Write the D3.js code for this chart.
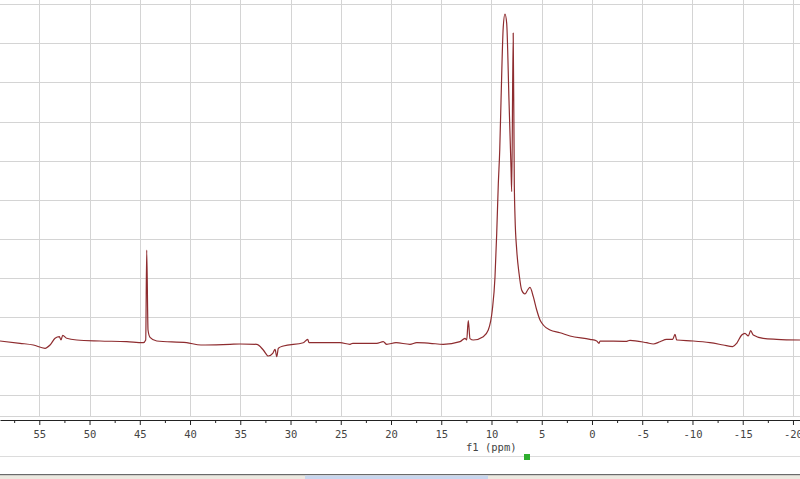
<!DOCTYPE html>
<html>
<head>
<meta charset="utf-8">
<script src="https://cdn.jsdelivr.net/npm/d3@7"></script>
<style>
  html, body { margin: 0; padding: 0; background: #fff; }
  svg { display: block; }
</style>
</head>
<body>
<div id="chart"></div>
<script>
// spectrum, left (high ppm) to right
const ppm = [
  58.91, 56.92, 55.59, 54.43, 53.93, 53.43, 53.00, 52.84, 52.67, 52.27, 51.27, 48.96, 46.30,
  44.65, 44.41, 44.31, 44.18, 43.98, 43.31, 40.33, 38.91, 36.02, 35.02, 33.36, 32.71, 32.21,
  31.77, 31.54, 31.37, 31.21, 30.72, 28.73, 28.29, 28.16, 25.07, 24.08, 23.81, 22.76, 21.42,
  20.77, 20.43, 19.50, 18.11, 17.44, 16.12, 14.80, 13.13, 12.64, 12.47, 12.31, 12.14, 11.81,
  10.82, 10.32, 9.92, 9.65, 9.48, 9.32, 9.18, 9.05, 8.83, 8.66, 8.49, 8.26, 8.06, 7.99, 7.84,
  7.73, 7.66, 7.49, 7.26, 7.00, 6.67, 6.40, 6.17, 5.84, 5.50, 5.17, 4.85, 4.18, 3.18, 2.19,
  0.20, -0.47, -0.70, -0.80, -3.45, -3.78, -5.44, -6.10, -6.77, -7.43, -8.03, -8.26, -8.43,
  -10.08, -11.74, -13.06, -14.00, -14.40, -14.90, -15.22, -15.55, -15.79, -16.05, -17.04,
  -18.38, -20.70
];
const intensity = [
  1.389, 1.330, 1.286, 1.202, 1.286, 1.458, 1.499, 1.414, 1.535, 1.458, 1.414, 1.389, 1.371,
  1.345, 1.414, 3.716, 1.670, 1.483, 1.389, 1.345, 1.286, 1.304, 1.312, 1.304, 1.159, 1.005,
  1.074, 1.176, 0.987, 1.202, 1.261, 1.345, 1.432, 1.345, 1.345, 1.304, 1.330, 1.330, 1.330,
  1.371, 1.304, 1.345, 1.304, 1.345, 1.330, 1.304, 1.371, 1.458, 1.414, 1.908, 1.450, 1.414,
  1.499, 1.670, 2.182, 3.033, 4.143, 5.422, 6.274, 7.552, 9.419, 9.752, 9.522, 7.552, 5.839, 5.207, 9.266,
  5.379, 4.568, 3.716, 3.120, 2.693, 2.591, 2.693, 2.762, 2.522, 2.182, 1.926, 1.798, 1.670, 1.601, 1.517,
  1.432, 1.389, 1.330, 1.389, 1.381, 1.407, 1.345, 1.312, 1.371, 1.432, 1.432, 1.560, 1.414,
  1.389, 1.345, 1.286, 1.243, 1.330, 1.542, 1.586, 1.517, 1.652, 1.542, 1.458,
  1.432, 1.414
];
const majorTicks = [55, 50, 45, 40, 35, 30, 25, 20, 15, 10, 5, 0, -5, -10, -15, -20];
const minorTicks = [57.5, 52.5, 47.5, 42.5, 37.5, 32.5, 27.5, 22.5, 17.5, 12.5, 7.5, 2.5, -2.5, -7.5, -12.5, -17.5];
const gridLevels = [0, 1, 2, 3, 4, 5, 6, 7, 8, 9, 10];
const axisTitle = "f1 (ppm)";

const W = 800, H = 479;
const plot = {top: 0, bottom: 415.7, axisY: 420};

const data = ppm.map((p, i) => ({ppm: p, value: intensity[i]}));

const x = d3.scaleLinear().domain([58.91, -20.7]).range([0, W]);
const y = d3.scaleLinear().domain([0, 10]).range([395.3, 4.3]);

const svg = d3.select("#chart").append("svg")
    .attr("width", W)
    .attr("height", H);

// grid
const grid = svg.append("g").attr("class", "grid")
    .attr("stroke", "#d4d4d4")
    .attr("stroke-width", 1)
    .attr("shape-rendering", "crispEdges");

grid.selectAll(".hgrid")
    .data(gridLevels)
    .enter().append("line")
    .attr("x1", 0).attr("x2", W)
    .attr("y1", d => Math.round(y(d)) + 0.5)
    .attr("y2", d => Math.round(y(d)) + 0.5);

grid.selectAll(".vgrid")
    .data(majorTicks)
    .enter().append("line")
    .attr("x1", d => Math.round(x(d)) + 0.5)
    .attr("x2", d => Math.round(x(d)) + 0.5)
    .attr("y1", plot.top)
    .attr("y2", plot.bottom);

grid.append("line")
    .attr("x1", 0).attr("x2", W)
    .attr("y1", Math.round(plot.bottom) + 0.5)
    .attr("y2", Math.round(plot.bottom) + 0.5);

// spectrum
const line = d3.line()
    .x(d => x(d.ppm))
    .y(d => y(d.value))
    .curve(d3.curveMonotoneX);

svg.append("path")
    .datum(data)
    .attr("d", line)
    .attr("fill", "none")
    .attr("stroke", "#8e2c2f")
    .attr("stroke-width", 1.2)
    .attr("stroke-linejoin", "round");

// x axis
const axis = svg.append("g")
    .attr("transform", `translate(0,${plot.axisY})`)
    .call(d3.axisBottom(x)
        .tickValues(majorTicks)
        .tickSize(5)
        .tickSizeOuter(0)
        .tickPadding(6)
        .tickFormat(d => String(d)));

axis.select(".domain").attr("stroke", "#222");
axis.selectAll(".tick line").attr("stroke", "#222");
axis.selectAll(".tick text")
    .attr("fill", "#444")
    .style("font-family", "'DejaVu Sans Mono', monospace")
    .style("font-size", "10.5px");

svg.append("g")
    .attr("transform", `translate(0,${plot.axisY})`)
    .call(d3.axisBottom(x)
        .tickValues(minorTicks)
        .tickSize(3)
        .tickSizeOuter(0)
        .tickFormat(""))
    .call(g => g.select(".domain").remove())
    .selectAll(".tick line").attr("stroke", "#222");

svg.append("text")
    .attr("x", 466)
    .attr("y", 451)
    .attr("fill", "#444")
    .style("font-family", "'DejaVu Sans Mono', monospace")
    .style("font-size", "10.5px")
    .text(axisTitle);

// window chrome under the plot
svg.append("line")
    .attr("x1", 0).attr("x2", W)
    .attr("y1", 456.5).attr("y2", 456.5)
    .attr("stroke", "#dcdcdc");

// marker square
svg.append("rect")
    .attr("x", 524).attr("y", 454)
    .attr("width", 6).attr("height", 6)
    .attr("fill", "#2fae2f");

svg.append("rect")
    .attr("x", 0).attr("y", 474)
    .attr("width", W).attr("height", 1.5)
    .attr("fill", "#6a6a6a");

svg.append("rect")
    .attr("x", 0).attr("y", 475.5)
    .attr("width", W).attr("height", 3.5)
    .attr("fill", "#ece9e0");

svg.append("rect")
    .attr("x", 305).attr("y", 475.5)
    .attr("width", 183).attr("height", 3.5)
    .attr("fill", "#c8d6ee");
</script>
</body>
</html>
